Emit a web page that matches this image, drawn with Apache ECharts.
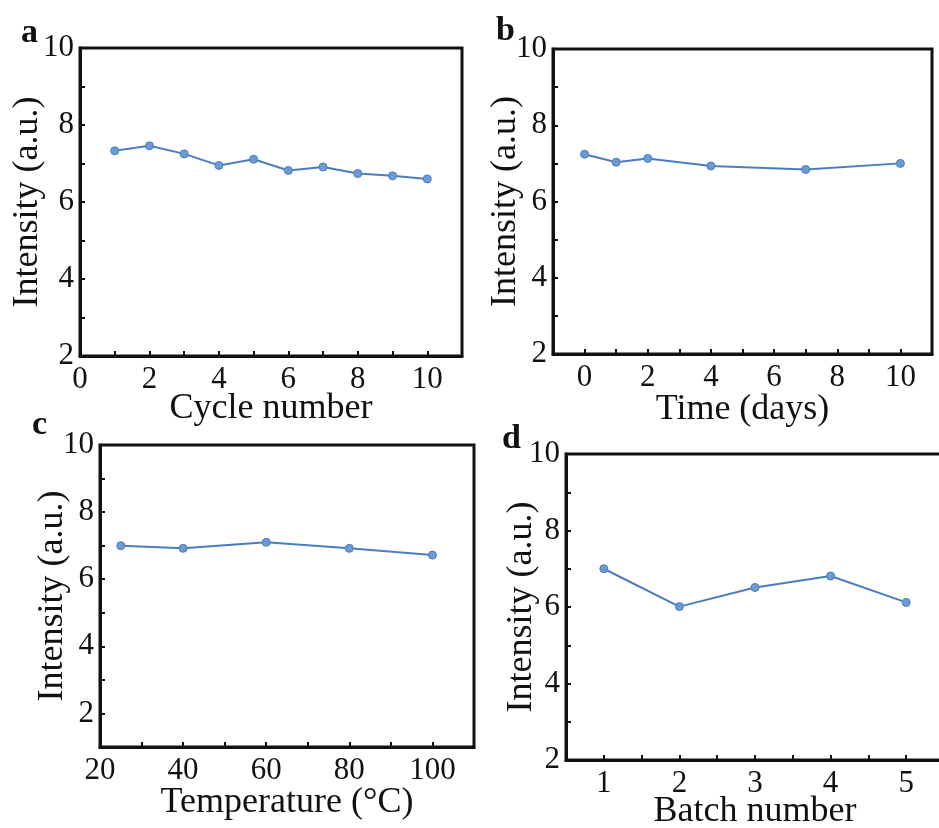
<!DOCTYPE html>
<html>
<head>
<meta charset="utf-8">
<script src="https://cdn.jsdelivr.net/npm/echarts@6/dist/echarts.min.js"></script>
<style>
html, body { margin: 0; padding: 0; background: #fff; }
#chart { width: 939px; height: 828px; }
</style>
</head>
<body>
<div id="chart"></div>
<script>
// panel a - cycle stability
var cycleX = [1, 2, 3, 4, 5, 6, 7, 8, 9, 10];
var cycleY = [7.33, 7.46, 7.25, 6.95, 7.11, 6.82, 6.91, 6.74, 6.68, 6.60];
// panel b - storage time
var daysX = [0, 1, 2, 4, 7, 10];
var daysY = [7.24, 7.03, 7.13, 6.93, 6.84, 7.00];
// panel c - temperature
var tempX = [25, 40, 60, 80, 100];
var tempY = [7.00, 6.92, 7.10, 6.92, 6.72];
// panel d - batches
var batchX = [1, 2, 3, 4, 5];
var batchY = [7.00, 6.01, 6.51, 6.81, 6.12];

var panelLetters = ['a', 'b', 'c', 'd'];
var xTitles = ['Cycle number', 'Time (days)', 'Temperature (\u00b0C)', 'Batch number'];
var yTitle = 'Intensity (a.u.)';

var serif = '"Liberation Serif", "Times New Roman", serif';
var lineColor = '#4a7dbd';

var grids = [
    { left: 80, top: 48, width: 382, height: 308, outerBoundsMode: 'none' },
    { left: 553, top: 49, width: 379, height: 305, outerBoundsMode: 'none' },
    { left: 100, top: 445, width: 374, height: 302, outerBoundsMode: 'none' },
    { left: 566, top: 454, width: 378, height: 306, outerBoundsMode: 'none' }
];
var xRanges = [[0, 11, 2], [-1, 11, 2], [20, 110, 20], [0.5, 5.5, 1]];
var yRanges = [[2, 10, 2], [2, 10, 2], [1, 10, 2], [2, 10, 2]];
var xGaps = [35, 38, 38, 34];
var yGaps = [34, 29, 29, 26];
var letterPos = [[21, 16], [496, 14], [32, 408], [502, 422]];

var dataSets = [
    [cycleX, cycleY],
    [daysX, daysY],
    [tempX, tempY],
    [batchX, batchY]
];

var xAxes = [], yAxes = [], series = [], graphics = [];

for (var i = 0; i < 4; i++) {
    var xr = xRanges[i];
    var yr = yRanges[i];
    xAxes.push({
        type: 'value',
        gridIndex: i,
        min: xr[0],
        max: xr[1],
        interval: xr[2] / 2,
        name: xTitles[i],
        nameLocation: 'middle',
        nameGap: xGaps[i],
        nameMoveOverlap: false,
        nameTextStyle: { fontFamily: serif, fontSize: 36, color: '#111' },
        axisLine: { show: true, onZero: false, lineStyle: { color: '#111', width: 3 } },
        axisTick: { show: true, inside: true, length: 5, lineStyle: { color: '#111', width: 2 } },
        axisLabel: {
            fontFamily: serif, fontSize: 31, color: '#111', margin: 8,
            formatter: (function (step) {
                return function (v) {
                    if (Math.abs(v - Math.round(v)) > 1e-6) return '';
                    return (Math.round(v) % step === 0 || step === 1) ? String(Math.round(v)) : '';
                };
            })(xr[2])
        },
        splitLine: { show: false }
    });
    yAxes.push({
        type: 'value',
        gridIndex: i,
        min: yr[0],
        max: yr[1],
        interval: 1,
        name: yTitle,
        nameLocation: 'middle',
        nameGap: yGaps[i],
        nameMoveOverlap: false,
        nameRotate: 90,
        nameTextStyle: { fontFamily: serif, fontSize: 36, color: '#111' },
        axisLine: { show: true, onZero: false, lineStyle: { color: '#111', width: 3 } },
        axisTick: { show: true, inside: true, length: 5, lineStyle: { color: '#111', width: 2 } },
        axisLabel: {
            fontFamily: serif, fontSize: 31, color: '#111', margin: 6,
            formatter: function (v) { return v % 2 === 0 ? String(v) : ''; }
        },
        splitLine: { show: false }
    });
    series.push({
        type: 'line',
        xAxisIndex: i,
        yAxisIndex: i,
        data: dataSets[i][0].map(function (x, j) { return [x, dataSets[i][1][j]]; }),
        symbol: 'circle',
        symbolSize: 8,
        lineStyle: { color: lineColor, width: 2 },
        itemStyle: { color: '#6d9ad3', borderColor: lineColor, borderWidth: 1 },
        z: 5
    });
    var g = grids[i];
    // closed frame around each plot
    graphics.push({
        type: 'rect',
        shape: { x: g.left, y: g.top, width: g.width, height: g.height },
        style: { fill: 'none', stroke: '#111', lineWidth: 3 },
        z: 1
    });
    graphics.push({
        type: 'text',
        left: letterPos[i][0],
        top: letterPos[i][1],
        style: { text: panelLetters[i], font: 'bold 34px ' + serif, fill: '#111' }
    });
}

var myChart = echarts.init(document.getElementById('chart'));
var option = {
    backgroundColor: '#fff',
    animation: false,
    grid: grids,
    xAxis: xAxes,
    yAxis: yAxes,
    series: series,
    graphic: graphics
};
myChart.setOption(option, true);
</script>
</body>
</html>
